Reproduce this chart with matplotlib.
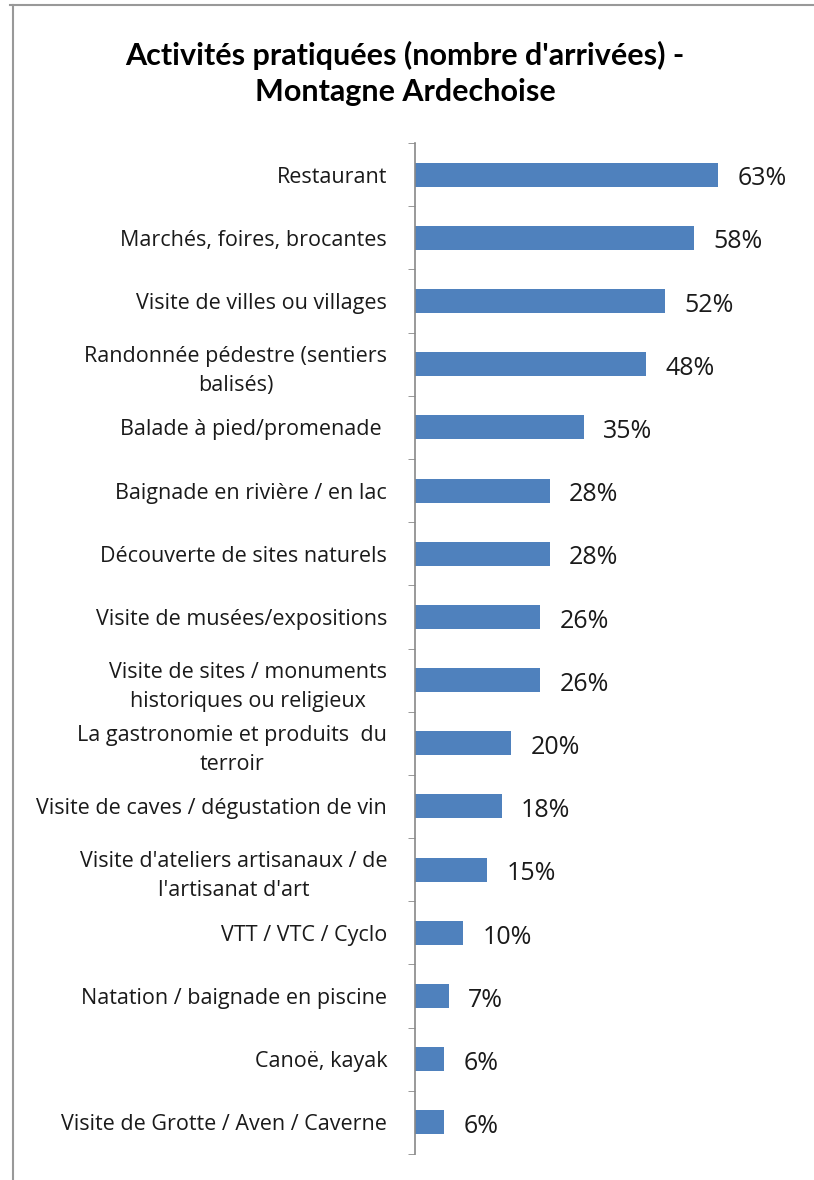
import matplotlib.pyplot as plt
from matplotlib.lines import Line2D
import numpy as np

# Categories and shares (%), top to bottom as in the chart
categories = [
    "Restaurant",
    "Marchés, foires, brocantes",
    "Visite de villes ou villages",
    "Randonnée pédestre (sentiers\nbalisés)",
    "Balade à pied/promenade ",
    "Baignade en rivière / en lac",
    "Découverte de sites naturels",
    "Visite de musées/expositions",
    "Visite de sites / monuments\nhistoriques ou religieux",
    "La gastronomie et produits  du\nterroir",
    "Visite de caves / dégustation de vin",
    "Visite d'ateliers artisanaux / de\nl'artisanat d'art",
    "VTT / VTC / Cyclo",
    "Natation / baignade en piscine",
    "Canoë, kayak",
    "Visite de Grotte / Aven / Caverne",
]
values = [63, 58, 52, 48, 35, 28, 28, 26, 26, 20, 18, 15, 10, 7, 6, 6]

plt.rcParams['font.family'] = ['Open Sans', 'DejaVu Sans']

W, H = 814, 1180
fig = plt.figure(figsize=(W / 100, H / 100), dpi=100)
ax = fig.add_axes([415 / W, 1 - 1154 / H, 337 / W, (1154 - 143) / H])

n = len(categories)
y = np.arange(n)
ax.barh(y, values, height=0.38, color='#4F81BD')
ax.set_ylim(n - 0.5, -0.5)
ax.set_xlim(0, 70)

for yi, v in zip(y, values):
    ax.annotate(f"{v}%", xy=(v, yi), xytext=(14, -3), textcoords='offset points',
                va='center', ha='left', fontsize=18, color='#1a1a1a')

ax.set_yticks(y)
ax.set_yticklabels(categories, fontsize=15.5, multialignment='center',
                   linespacing=1.5, color='#1a1a1a')
ax.tick_params(axis='y', which='major', length=0, pad=20)
ax.set_yticks(np.arange(n + 1) - 0.5, minor=True)
ax.tick_params(axis='y', which='minor', length=5, color='#888888', direction='out')
ax.set_xticks([])

for s in ['top', 'right', 'bottom']:
    ax.spines[s].set_visible(False)
ax.spines['left'].set_color('#888888')
ax.spines['left'].set_linewidth(1.2)

fig.text(405 / W, 1 - 55 / H, "Activités pratiquées (nombre d'arrivées) -",
         ha='center', va='center', fontsize=22, fontweight='bold', family='Lato')
fig.text(405 / W, 1 - 92 / H, "Montagne Ardechoise",
         ha='center', va='center', fontsize=22, fontweight='bold', family='Lato')

# chart area border (top and left edges visible)
fig.add_artist(Line2D([13 / W, 13 / W], [0, 1 - 5 / H], color='#999999', lw=1.5))
fig.add_artist(Line2D([10 / W, 1], [1 - 5 / H, 1 - 5 / H], color='#999999', lw=1.5))

fig.savefig('out.png', dpi=100)
